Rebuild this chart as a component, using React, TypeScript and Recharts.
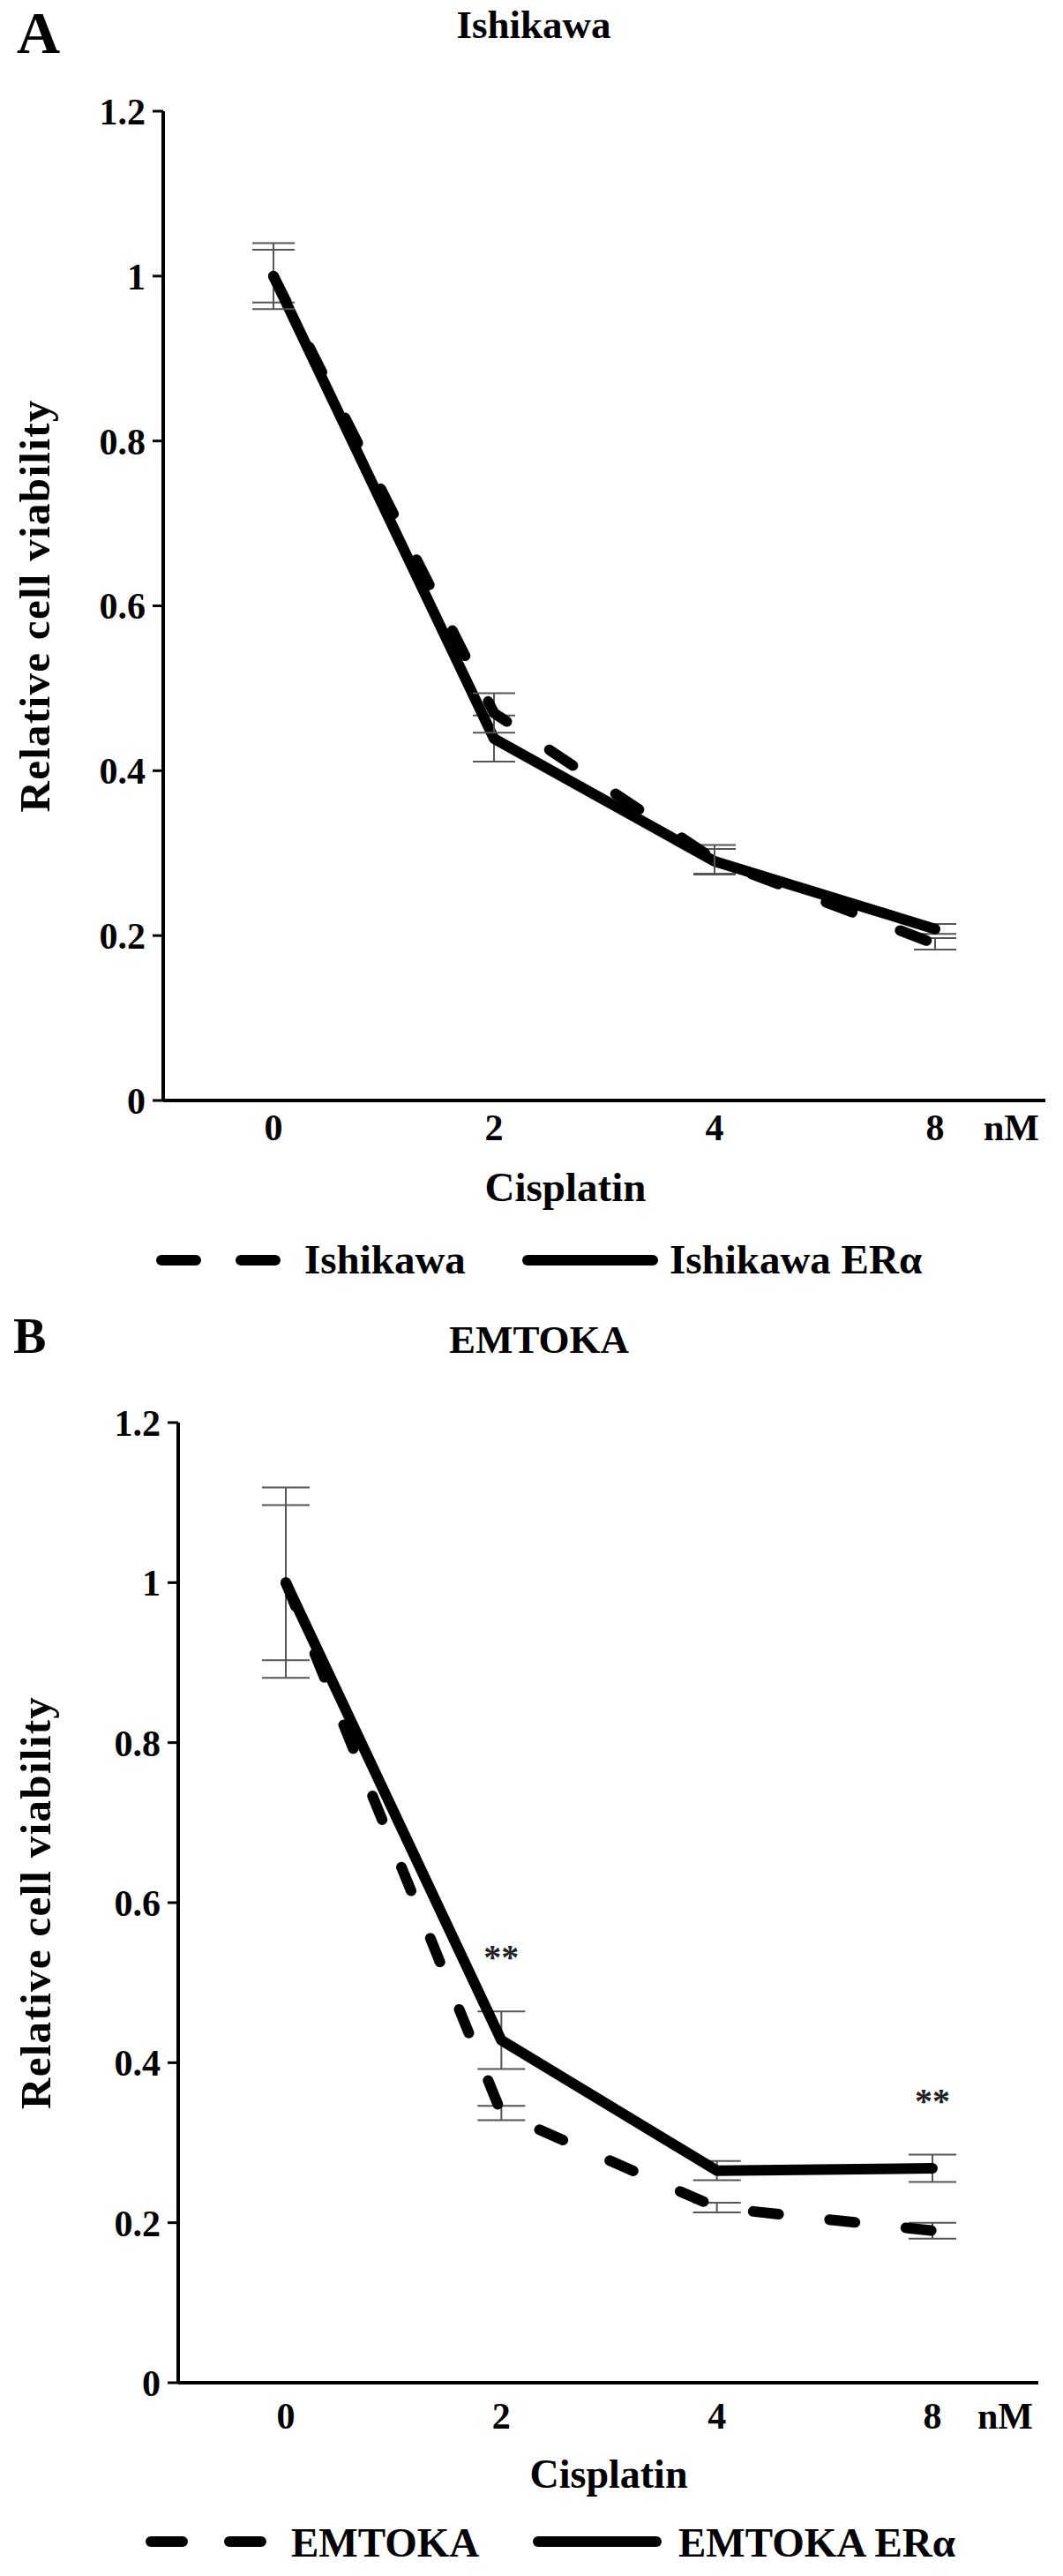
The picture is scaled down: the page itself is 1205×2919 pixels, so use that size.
import React from 'react';
import { LineChart, Line, XAxis, YAxis, ErrorBar, Legend, LabelList } from 'recharts';

const FONT = '"Liberation Serif", "Times New Roman", Times, serif';

// ---- data ----
const doseLabels = ['0', '2', '4', '8'];
const yTicks = [0, 0.2, 0.4, 0.6, 0.8, 1, 1.2];

const ishikawaMean = [1.0, 0.47, 0.292, 0.19];
const ishikawaSem = [0.04, 0.024, 0.018, 0.007];
const ishikawaEraMean = [1.0, 0.439, 0.29, 0.208];
const ishikawaEraSem = [0.032, 0.028, 0.015, 0.006];
const ishikawaEraSig = ['', '', '', ''];

const emtokaMean = [1.0, 0.337, 0.219, 0.19];
const emtokaSem = [0.097, 0.009, 0.006, 0.01];
const emtokaEraMean = [1.0, 0.428, 0.265, 0.268];
const emtokaEraSem = [0.119, 0.036, 0.012, 0.017];
const emtokaEraSig = ['', '**', '', '**'];

const buildData = (cm: number[], ce: number[], em: number[], ee: number[], sig: string[]) =>
  doseLabels.map((d, i) => ({
    dose: d,
    ctrl: cm[i],
    ctrlErr: ce[i],
    era: em[i],
    eraErr: ee[i],
    sig: sig[i],
    sigTop: sig[i] ? em[i] + ee[i] : null,
  }));

const dataA = buildData(ishikawaMean, ishikawaSem, ishikawaEraMean, ishikawaEraSem, ishikawaEraSig);
const dataB = buildData(emtokaMean, emtokaSem, emtokaEraMean, emtokaEraSem, emtokaEraSig);

type PanelCfg = {
  height: number;
  margin: { top: number; right: number; bottom: number; left: number };
  yAxisWidth: number;
  xPad: { left: number; right: number };
  xTickOffset: number;
  capWidth: number;
  dash: string;
  ctrlName: string;
  eraName: string;
  legend: {
    top: number;
    dashX: [number, number];
    dashArr: string;
    ctrlTextX: number;
    solidX: [number, number];
    eraTextX: number;
    lineY: number;
    baseline: number;
    fontSize: number;
  };
  cis: { x: number; y: number; size: number };
  nm: { x: number; y: number };
  yLabelX: number;
  yLabelSize: number;
};

const cfgA: PanelCfg = {
  height: 1480,
  margin: { top: 126, right: 20, bottom: 153, left: 0 },
  yAxisWidth: 185,
  xPad: { left: 125, right: 125 },
  xTickOffset: 15,
  capWidth: 24,
  dash: '32 58',
  ctrlName: 'Ishikawa',
  eraName: 'Ishikawa ERα',
  legend: {
    top: 1400,
    dashX: [183, 312],
    dashArr: '39 51',
    ctrlTextX: 345,
    solidX: [598, 740],
    eraTextX: 759,
    lineY: 28,
    baseline: 43,
    fontSize: 47,
  },
  cis: { x: 641, y: 1361, size: 47 },
  nm: { x: 1115, y: 1292 },
  yLabelX: 39,
  yLabelSize: 49,
};

const cfgB: PanelCfg = {
  height: 1439,
  margin: { top: 132, right: 28, bottom: 139, left: 0 },
  yAxisWidth: 202,
  xPad: { left: 122, right: 120 },
  xTickOffset: 22,
  capWidth: 27,
  dash: '29 58',
  ctrlName: 'EMTOKA',
  eraName: 'EMTOKA ERα',
  legend: {
    top: 1370,
    dashX: [171, 296],
    dashArr: '36 53',
    ctrlTextX: 330,
    solidX: [610, 744],
    eraTextX: 769,
    lineY: 30,
    baseline: 47,
    fontSize: 47,
  },
  cis: { x: 690, y: 1339, size: 46 },
  nm: { x: 1108, y: 1272 },
  yLabelX: 40,
  yLabelSize: 49,
};

const StarLabel = (props: any) => {
  const { x, y, value } = props;
  if (!value || y == null || isNaN(y)) return null;
  return (
    <text x={x} y={y - 48} textAnchor="middle" fontFamily={FONT} fontWeight="bold" fontSize={40} fill="#222">
      {value}
    </text>
  );
};

function Panel({ cfg, data }: { cfg: PanelCfg; data: any[] }) {
  const L = cfg.legend;
  const legendContent = () => (
    <svg width={1205} height={60} style={{ display: 'block', overflow: 'visible' }}>
      <line
        x1={L.dashX[0]}
        x2={L.dashX[1]}
        y1={L.lineY}
        y2={L.lineY}
        stroke="#000"
        strokeWidth={12}
        strokeLinecap="round"
        strokeDasharray={L.dashArr}
      />
      <text x={L.ctrlTextX} y={L.baseline} fontFamily={FONT} fontWeight="bold" fontSize={L.fontSize} fill="#000">
        {cfg.ctrlName}
      </text>
      <line x1={L.solidX[0]} x2={L.solidX[1]} y1={L.lineY} y2={L.lineY} stroke="#000" strokeWidth={12} strokeLinecap="round" />
      <text x={L.eraTextX} y={L.baseline} fontFamily={FONT} fontWeight="bold" fontSize={L.fontSize} fill="#000">
        {cfg.eraName}
      </text>
    </svg>
  );

  const yLabel = (p: any) => {
    const vb = p.viewBox || { x: 0, y: 0, width: 0, height: 0 };
    const cx = vb.x + cfg.yLabelX;
    const cy = vb.y + vb.height / 2;
    return (
      <text
        x={cx}
        y={cy}
        transform={`rotate(-90 ${cx} ${cy})`}
        textAnchor="middle"
        dominantBaseline="central"
        fontFamily={FONT}
        fontWeight="bold"
        fontSize={cfg.yLabelSize}
        letterSpacing={1.3}
        fill="#000"
      >
        Relative cell viability
      </text>
    );
  };

  const xLabel = () => (
    <g>
      <text x={cfg.cis.x} y={cfg.cis.y} textAnchor="middle" fontFamily={FONT} fontWeight="bold" fontSize={cfg.cis.size} fill="#000">
        Cisplatin
      </text>
      <text x={cfg.nm.x} y={cfg.nm.y} textAnchor="start" fontFamily={FONT} fontWeight="bold" fontSize={42} fill="#000">
        nM
      </text>
    </g>
  );

  const tickStyle = { fill: '#000', fontSize: 42, fontFamily: FONT, fontWeight: 'bold' as const };

  return (
    <LineChart width={1205} height={cfg.height} data={data} margin={cfg.margin}>
      <XAxis
        dataKey="dose"
        type="category"
        interval={0}
        tickLine={false}
        axisLine={{ stroke: '#000', strokeWidth: 4 }}
        tick={tickStyle}
        tickSize={cfg.xTickOffset - 2}
        tickMargin={2}
        height={80}
        padding={cfg.xPad}
        label={xLabel}
      />
      <YAxis
        type="number"
        domain={[0, 1.2]}
        ticks={yTicks}
        interval={0}
        tickFormatter={(v: number) => String(v)}
        width={cfg.yAxisWidth}
        tickSize={12}
        tickMargin={8}
        tickLine={{ stroke: '#000', strokeWidth: 3 }}
        axisLine={{ stroke: '#000', strokeWidth: 4 }}
        tick={tickStyle}
        label={yLabel}
      />
      <Legend
        layout="horizontal"
        verticalAlign="middle"
        align="center"
        wrapperStyle={{ top: L.top, left: 0, width: 1205, height: 60 }}
        content={legendContent}
      />
      <Line
        dataKey="era"
        name={cfg.eraName}
        stroke="#000"
        strokeWidth={12}
        strokeLinecap="round"
        strokeLinejoin="round"
        dot={false}
        activeDot={false}
        isAnimationActive={false}
      >
        <ErrorBar dataKey="eraErr" width={cfg.capWidth} stroke="#555" strokeWidth={2} direction="y" />
      </Line>
      <Line
        dataKey="ctrl"
        name={cfg.ctrlName}
        stroke="#000"
        strokeWidth={12}
        strokeDasharray={cfg.dash}
        strokeLinecap="round"
        strokeLinejoin="round"
        dot={false}
        activeDot={false}
        isAnimationActive={false}
      >
        <ErrorBar dataKey="ctrlErr" width={cfg.capWidth} stroke="#555" strokeWidth={2} direction="y" />
      </Line>
      <Line
        dataKey="sigTop"
        stroke="none"
        dot={false}
        activeDot={false}
        legendType="none"
        isAnimationActive={false}
      >
        <LabelList dataKey="sig" content={StarLabel} />
      </Line>
    </LineChart>
  );
}

export default function App() {
  return (
    <div style={{ position: 'absolute', left: 0, top: 0, width: 1205, height: 2919, background: '#fff', overflow: 'hidden' }}>
      <div style={{ position: 'absolute', left: 0, top: 0 }}>
        <Panel cfg={cfgA} data={dataA} />
      </div>
      <div style={{ position: 'absolute', left: 0, top: 1480 }}>
        <Panel cfg={cfgB} data={dataB} />
      </div>
      <svg width={1205} height={2919} style={{ position: 'absolute', left: 0, top: 0, pointerEvents: 'none' }}>
        <text x={19} y={60} fontFamily={FONT} fontWeight="bold" fontSize={68} fill="#000">A</text>
        <text x={605} y={43} textAnchor="middle" fontFamily={FONT} fontWeight="bold" fontSize={45} fill="#000">Ishikawa</text>
        <text x={15} y={1533} fontFamily={FONT} fontWeight="bold" fontSize={56} fill="#000">B</text>
        <text x={611} y={1533} textAnchor="middle" fontFamily={FONT} fontWeight="bold" fontSize={45} fill="#000">EMTOKA</text>
      </svg>
    </div>
  );
}
